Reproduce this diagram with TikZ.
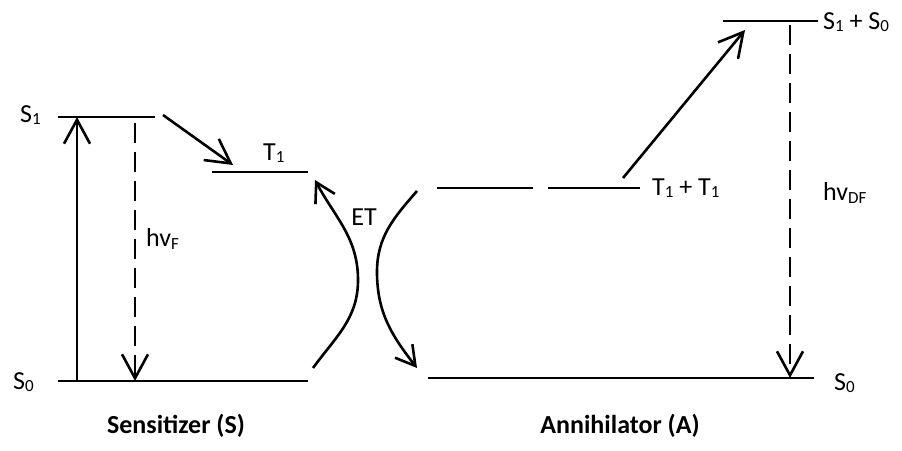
\documentclass[tikz,border=0pt]{standalone}
\usepackage{fontspec}
\setmainfont{Carlito}
\usetikzlibrary{arrows.meta}
\newcommand{\sbs}[1]{\raisebox{-0.1em}{\fontsize{17}{20}\selectfont #1}}
\begin{document}
\begin{tikzpicture}[x=1pt,y=1pt,
  level/.style={line width=2.6pt},
  arr/.style={line width=2.6pt,-{Straight Barb[length=24pt,width=26pt]}},
  sarr/.style={line width=2.6pt,-{Straight Barb[length=19pt,width=22pt]}},
  darr/.style={arr,dash pattern=on 20pt off 9pt},
  lbl/.style={inner sep=0pt,anchor=west,font=\fontsize{26}{30}\selectfont},
  ttl/.style={inner sep=0pt,font=\bfseries\fontsize{26}{30}\selectfont}]
\useasboundingbox (0,0) rectangle (902,450);
% sensitizer levels
\coordinate (s1a) at (58,333); \coordinate (s1b) at (155,333);
\coordinate (s0a) at (58,69);  \coordinate (s0b) at (308,69);
\coordinate (t1a) at (212,278); \coordinate (t1b) at (308,278);
\draw[level] (s1a) -- (s1b);
\draw[level] (s0a) -- (s0b);
\draw[level] (t1a) -- (t1b);
\node[lbl] (ls1) at (20,335) {S\sbs{1}};
\node[lbl] (ls0) at (13,68) {S\sbs{0}};
\node[lbl] (lt1) at (263,297) {T\sbs{1}};
% absorption / fluorescence
\coordinate (absb) at (77,69); \coordinate (abst) at (77,333);
\draw[arr] (absb) -- (abst);
\coordinate (flt) at (135,327); \coordinate (flb) at (135,69);
\draw[darr] (flt) -- (flb);
\node[lbl] (lhvf) at (146,211) {hv\sbs{F}};
% ISC
\coordinate (isca) at (163,335); \coordinate (iscb) at (233,285);
\draw[arr] (isca) -- (iscb);
% ET curves
\coordinate (et1a) at (313,82); \coordinate (et1m) at (358,170); \coordinate (et1b) at (315,270);
\draw[sarr] (et1a) to[out=54,in=-90] (et1m) to[out=90,in=-62] (et1b);
\coordinate (et2a) at (417,259); \coordinate (et2m) at (377,178); \coordinate (et2b) at (417,82);
\draw[sarr] (et2a) to[out=-131,in=90] (et2m) to[out=-90,in=128] (et2b);
\node[lbl,anchor=center] (let) at (364,233) {ET};
% annihilator levels
\coordinate (tta) at (437,262); \coordinate (ttb) at (533,262);
\coordinate (ttc) at (548,262); \coordinate (ttd) at (640,262);
\draw[level] (tta) -- (ttb);
\draw[level] (ttc) -- (ttd);
\node[lbl] (ltt) at (652,262) {T\sbs{1} + T\sbs{1}};
\coordinate (ssa) at (723,429); \coordinate (ssb) at (818,429);
\draw[level] (ssa) -- (ssb);
\node[lbl] (lss) at (823,428) {S\sbs{1} + S\sbs{0}};
\coordinate (a0a) at (428,72); \coordinate (a0b) at (814,72);
\draw[level] (a0a) -- (a0b);
\node[lbl] (la0) at (834,67) {S\sbs{0}};
% TTA
\coordinate (ttaa) at (623,272); \coordinate (ttab) at (745,420);
\draw[arr] (ttaa) -- (ttab);
% delayed fluorescence
\coordinate (dft) at (790,425); \coordinate (dfb) at (790,72);
\draw[darr] (dft) -- (dfb);
\node[lbl] (lhvdf) at (823,257) {hv\sbs{DF}};
% titles
\node[ttl] (tsens) at (176,24) {Sensitizer (S)};
\node[ttl] (tann) at (620,24) {Annihilator (A)};
\end{tikzpicture}
\end{document}
